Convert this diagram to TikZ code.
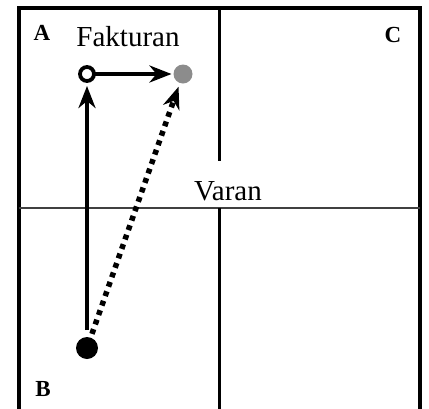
\documentclass[tikz,border=0pt]{standalone}
\usepackage{fontspec}
\setmainfont{Liberation Serif}
\usetikzlibrary{arrows.meta}

\begin{document}
\begin{tikzpicture}[x=1pt,y=-1pt,
  pt/.style={circle, inner sep=0pt, outer sep=0pt},
  conn/.style={line width=4.2pt, -{Stealth[length=22pt,width=17pt,inset=7pt]}},
  lbl/.style={font=\fontsize{29}{32}\selectfont, anchor=base},
  corner/.style={font=\fontsize{23}{25}\selectfont\bfseries, anchor=base}]

\useasboundingbox (0,0) rectangle (429,408);

% ── Frame and quadrant lines ─────────────────────────────────
\draw[line width=4pt] (18.5,415) -- (18.5,7.5) -- (420,7.5) -- (420,415);
\draw[line width=2pt, black!75] (18.5,207.5) -- (420,207.5);
\draw[line width=3pt] (219.5,7.5) -- (219.5,161);
\draw[line width=3pt] (219.5,207.5) -- (219.5,415);

% ── Points ───────────────────────────────────────────────────
\node[pt, draw, line width=3.8pt, minimum size=14pt] (start) at (87,74) {};
\node[pt, fill=black!45, minimum size=19pt]          (goal)  at (183,74) {};
\node[pt, fill=black, minimum size=22pt]             (base)  at (87,348) {};

% ── Connectors ───────────────────────────────────────────────
\draw[conn, shorten >=2pt, shorten <=1pt] (start) -- (goal);
\draw[conn, shorten >=5pt, shorten <=7pt] (base) -- (start);
\draw[conn, line width=5.5pt, dash pattern=on 5pt off 5pt,
      shorten >=4pt, shorten <=4pt] (base) -- (goal);

% ── Labels ───────────────────────────────────────────────────
\node[corner] (la) at (42,40)  {A};
\node[corner] (lc) at (393,42) {C};
\node[corner] (lb) at (43,396) {B};
\node[lbl]    (fak) at (128,46)  {Fakturan};
\node[lbl]    (var) at (228,200) {Varan};

\end{tikzpicture}
\end{document}
